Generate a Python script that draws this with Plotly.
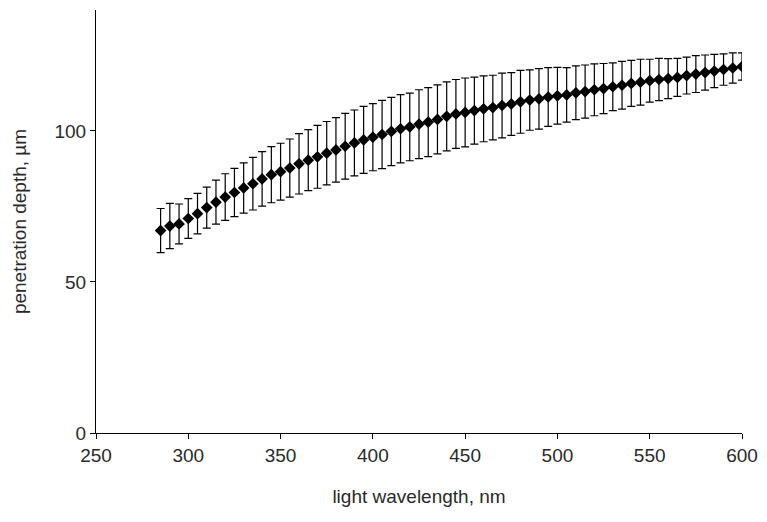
import plotly.graph_objects as go

# wavelength (nm), penetration depth (um) and its spread
wavelength = list(range(285, 605, 5))
depth = [
    67.0, 68.5, 69.2, 71.0, 72.6, 74.6, 76.4, 78.1, 79.6, 81.1,
    82.5, 84.1, 85.5, 86.5, 87.7, 89.1, 90.3, 91.4, 92.6, 93.7,
    94.9, 96.0, 97.0, 97.9, 98.8, 99.8, 100.7, 101.3, 102.2, 102.9,
    103.8, 104.8, 105.6, 106.1, 106.7, 107.3, 107.7, 108.4, 108.9, 109.6,
    110.2, 110.6, 111.2, 111.6, 111.9, 112.6, 113.0, 113.6, 114.0, 114.6,
    115.1, 115.7, 116.1, 116.6, 117.0, 117.3, 117.7, 118.3, 118.8, 119.3,
    119.8, 120.3, 120.8, 121.3,
]
spread = [
    7.3, 7.5, 6.6, 6.6, 6.7, 6.8, 7.3, 7.7, 8.0, 8.3,
    8.7, 9.0, 9.3, 9.4, 9.6, 10.0, 10.1, 10.4, 10.5, 10.7,
    10.9, 10.9, 11.1, 11.1, 11.3, 11.3, 11.3, 11.2, 11.4, 11.4,
    11.4, 11.4, 11.4, 11.4, 11.1, 10.9, 10.7, 10.7, 10.4, 10.4,
    10.0, 10.0, 9.7, 9.4, 9.0, 8.9, 8.8, 8.6, 8.3, 7.9,
    7.9, 7.6, 7.6, 7.1, 7.0, 6.6, 6.3, 6.1, 6.1, 5.8,
    5.5, 5.2, 5.0, 4.5,
]

fig = go.Figure()
fig.add_trace(go.Scatter(
    x=wavelength, y=depth, mode='markers',
    marker=dict(symbol='diamond', size=9, color='black'),
    error_y=dict(type='data', array=spread, visible=True,
                 color='black', thickness=1.2, width=4),
    showlegend=False,
))

font = dict(family='Liberation Sans, Arial, sans-serif', size=19, color='#2a2a2a')
axis_style = dict(showline=True, linecolor='black', linewidth=1,
                  ticks='outside', ticklen=5, tickcolor='black',
                  showgrid=False, zeroline=False, tickfont=font,
                  automargin=False)

fig.update_xaxes(range=[250, 600], dtick=50,
                 title=dict(text='light wavelength, nm', font=font, standoff=24), **axis_style)
fig.update_yaxes(range=[0, 140], tickvals=[0, 50, 100],
                 title=dict(text='penetration depth, µm', font=font, standoff=22), **axis_style)

# page body adds 8px offset, so the figure is a bit smaller than the window
fig.update_layout(
    width=759, height=514,
    margin=dict(l=88, r=25, t=2, b=89),
    plot_bgcolor='white', paper_bgcolor='white',
)

fig.write_html("out.html")
